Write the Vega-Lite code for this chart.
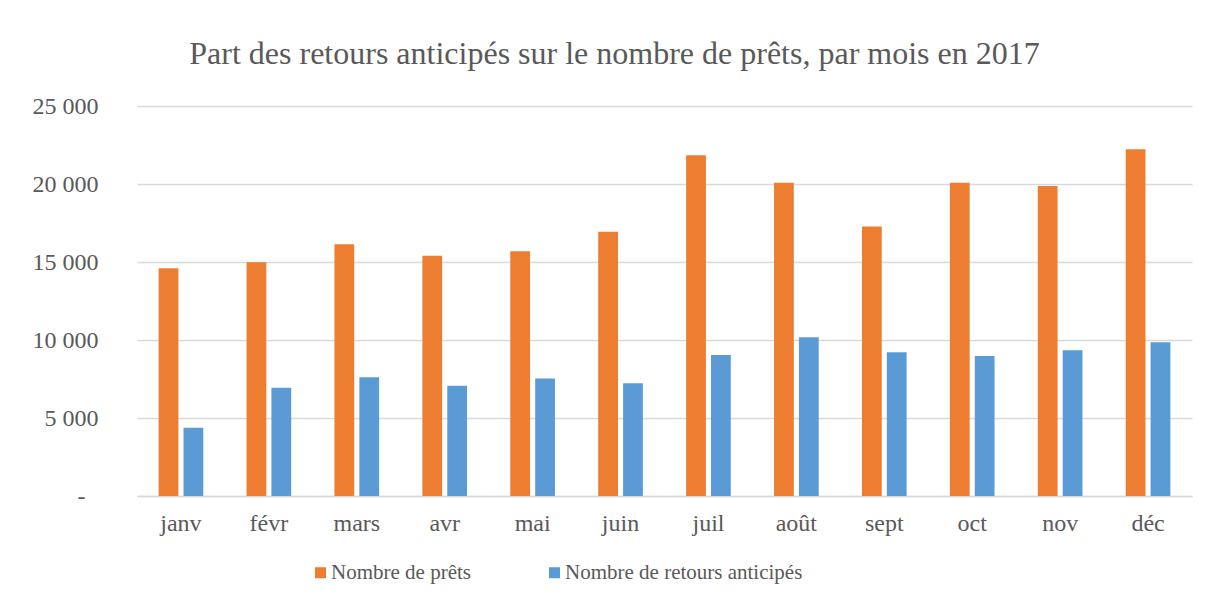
{
  "$schema": "https://vega.github.io/schema/vega-lite/v6.json",
  "width": 1055,
  "height": 390,
  "autosize": {"type": "none"},
  "padding": {"left": 137, "top": 106, "right": 16, "bottom": 107},
  "background": "#ffffff",
  "config": {
    "font": "Liberation Serif",
    "view": {"stroke": null},
    "axis": {"labelColor": "#595959", "labelFont": "Liberation Serif", "labelFontSize": 24},
    "legend": {"labelFont": "Liberation Serif", "labelFontSize": 21, "labelColor": "#595959"}
  },
  "title": {
    "text": "Part des retours anticipés sur le nombre de prêts, par mois en 2017",
    "font": "Liberation Serif",
    "fontSize": 32,
    "fontWeight": "normal",
    "color": "#595959",
    "anchor": "middle",
    "dx": -50,
    "baseline": "alphabetic",
    "offset": -2
  },
  "data": {
    "values": [
      {"mois": "janv", "serie": "Nombre de prêts", "valeur": 14600},
      {"mois": "janv", "serie": "Nombre de retours anticipés", "valeur": 4380},
      {"mois": "févr", "serie": "Nombre de prêts", "valeur": 14980},
      {"mois": "févr", "serie": "Nombre de retours anticipés", "valeur": 6940},
      {"mois": "mars", "serie": "Nombre de prêts", "valeur": 16130},
      {"mois": "mars", "serie": "Nombre de retours anticipés", "valeur": 7610},
      {"mois": "avr", "serie": "Nombre de prêts", "valeur": 15400},
      {"mois": "avr", "serie": "Nombre de retours anticipés", "valeur": 7070},
      {"mois": "mai", "serie": "Nombre de prêts", "valeur": 15690},
      {"mois": "mai", "serie": "Nombre de retours anticipés", "valeur": 7540},
      {"mois": "juin", "serie": "Nombre de prêts", "valeur": 16940},
      {"mois": "juin", "serie": "Nombre de retours anticipés", "valeur": 7220},
      {"mois": "juil", "serie": "Nombre de prêts", "valeur": 21840},
      {"mois": "juil", "serie": "Nombre de retours anticipés", "valeur": 9040},
      {"mois": "août", "serie": "Nombre de prêts", "valeur": 20080},
      {"mois": "août", "serie": "Nombre de retours anticipés", "valeur": 10170},
      {"mois": "sept", "serie": "Nombre de prêts", "valeur": 17270},
      {"mois": "sept", "serie": "Nombre de retours anticipés", "valeur": 9210},
      {"mois": "oct", "serie": "Nombre de prêts", "valeur": 20080},
      {"mois": "oct", "serie": "Nombre de retours anticipés", "valeur": 8970},
      {"mois": "nov", "serie": "Nombre de prêts", "valeur": 19870},
      {"mois": "nov", "serie": "Nombre de retours anticipés", "valeur": 9340},
      {"mois": "déc", "serie": "Nombre de prêts", "valeur": 22220},
      {"mois": "déc", "serie": "Nombre de retours anticipés", "valeur": 9850}
    ]
  },
  "mark": {"type": "bar"},
  "encoding": {
    "x": {
      "field": "mois",
      "type": "nominal",
      "sort": null,
      "scale": {"paddingInner": 0.492, "paddingOuter": 0.246},
      "axis": {
        "title": null,
        "labelAngle": 0,
        "ticks": false,
        "tickSize": 0,
        "labelPadding": 15,
        "domain": true,
        "domainColor": "#d9d9d9",
        "domainWidth": 1.3
      }
    },
    "xOffset": {
      "field": "serie",
      "type": "nominal",
      "sort": ["Nombre de prêts", "Nombre de retours anticipés"],
      "scale": {"paddingInner": 0.205, "paddingOuter": 0}
    },
    "y": {
      "field": "valeur",
      "type": "quantitative",
      "scale": {"domain": [0, 25000], "nice": false},
      "axis": {
        "title": null,
        "values": [0, 5000, 10000, 15000, 20000, 25000],
        "labelExpr": "datum.value == 0 ? '-' : format(datum.value / 1000, 'd') + ' 000'",
        "ticks": false,
        "tickSize": 0,
        "labelPadding": {"condition": {"test": "datum.value == 0", "value": 52}, "value": 39},
        "domain": false,
        "grid": true,
        "gridColor": "#d9d9d9",
        "gridWidth": 1.3
      }
    },
    "color": {
      "field": "serie",
      "type": "nominal",
      "scale": {
        "domain": ["Nombre de prêts", "Nombre de retours anticipés"],
        "range": ["#ED7D31", "#5B9BD5"]
      },
      "legend": {
        "title": null,
        "orient": "none",
        "legendX": 173,
        "legendY": 456,
        "padding": 0,
        "direction": "horizontal",
        "columns": 2,
        "columnPadding": 73,
        "symbolType": "square",
        "symbolSize": 121,
        "symbolStrokeWidth": 0,
        "symbolOpacity": 1,
        "labelFont": "Liberation Serif",
        "labelFontSize": 21,
        "labelColor": "#595959",
        "labelOffset": 0,
        "labelLimit": 400
      }
    }
  }
}
